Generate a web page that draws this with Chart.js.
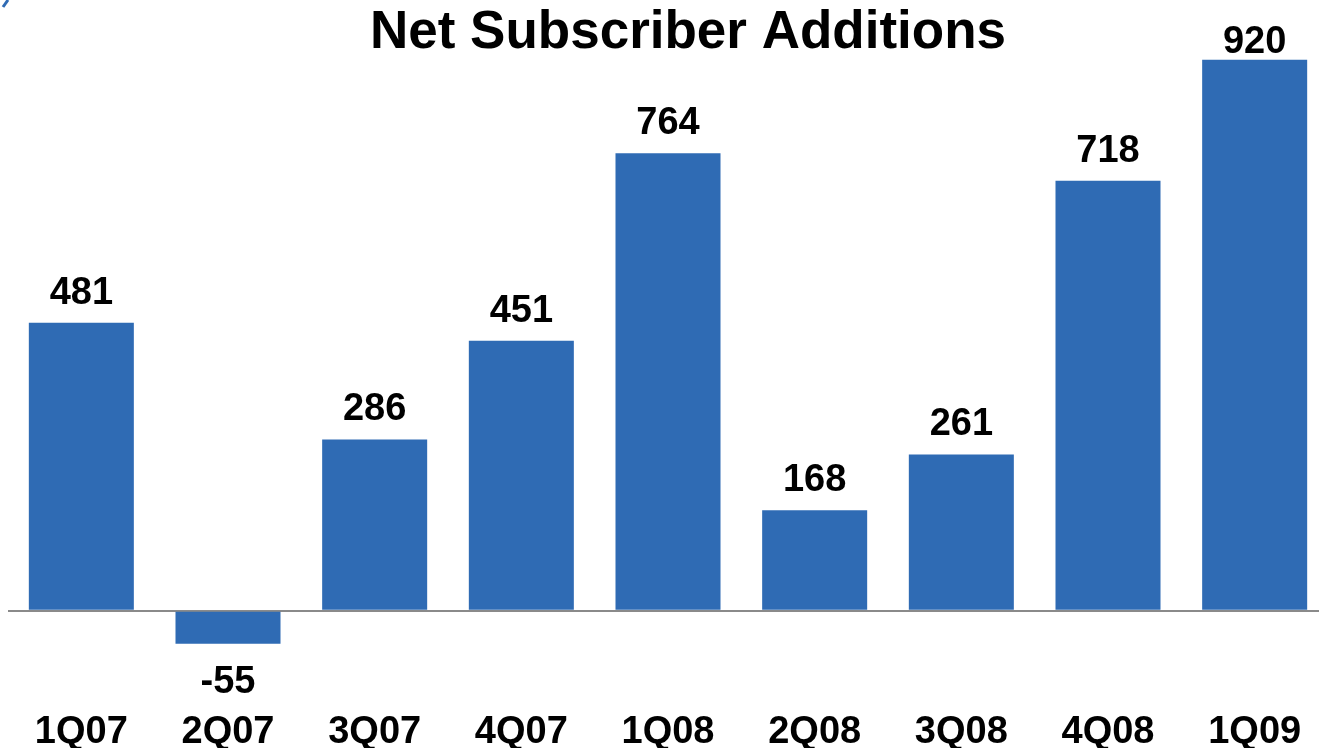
<!DOCTYPE html>
<html>
<head>
<meta charset="utf-8">
<script src="https://cdn.jsdelivr.net/npm/chart.js@4.4.1/dist/chart.umd.min.js"></script>
<style>
  html, body { margin: 0; padding: 0; background: #fff; overflow: hidden; width: 1319px; height: 748px; }
  #wrap { position: absolute; left: 0; top: 0; width: 1328px; height: 757px; }
</style>
</head>
<body>
<div id="wrap"><canvas id="c" width="1328" height="757"></canvas></div>
<script>
const categories = ['1Q07', '2Q07', '3Q07', '4Q07', '1Q08', '2Q08', '3Q08', '4Q08', '1Q09'];
const netAdds = [481, -55, 286, 451, 764, 168, 261, 718, 920];
const titleText = 'Net Subscriber Additions';

const FONT = "'Liberation Sans', Arial, Helvetica, sans-serif";

const labelPlugin = {
  id: 'barLabels',
  afterDatasetsDraw(chart) {
    const ctx = chart.ctx;
    const meta = chart.getDatasetMeta(0);
    ctx.save();
    ctx.font = 'bold 38px ' + FONT;
    ctx.fillStyle = '#000';
    ctx.textAlign = 'center';
    ctx.textBaseline = 'alphabetic';
    meta.data.forEach((el, i) => {
      const v = chart.data.datasets[0].data[i];
      if (v >= 0) {
        // keep the label below the title band (clamped like the original)
        const y = Math.max(el.y - 19, chart.chartArea.top - 5);
        ctx.fillText(String(v), el.x, y);
      } else {
        ctx.fillText(String(v), el.x, el.y + 49);
      }
    });
    ctx.restore();
  }
};

const titlePlugin = {
  id: 'offsetTitle',
  afterDraw(chart) {
    const ctx = chart.ctx;
    ctx.save();
    // small cropped decoration at the top-left corner
    ctx.strokeStyle = '#2f6bb4';
    ctx.lineWidth = 3;
    ctx.beginPath();
    ctx.moveTo(8, 0);
    ctx.lineTo(3, 7);
    ctx.stroke();
    ctx.font = 'bold 53px ' + FONT;
    ctx.fillStyle = '#000';
    ctx.textAlign = 'center';
    ctx.textBaseline = 'alphabetic';
    ctx.fillText(titleText, 688, 48);
    ctx.restore();
  }
};

new Chart(document.getElementById('c'), {
  type: 'bar',
  data: {
    labels: categories,
    datasets: [{
      data: netAdds,
      backgroundColor: '#2f6bb4',
      borderWidth: 0,
      categoryPercentage: 1,
      barPercentage: 0.716
    }]
  },
  options: {
    responsive: false,
    animation: false,
    devicePixelRatio: 1,
    layout: { padding: { left: 8, right: 0, top: 58, bottom: 0 } },
    plugins: {
      legend: { display: false },
      tooltip: { enabled: false },
      title: { display: false }
    },
    scales: {
      x: {
        grid: { display: false, drawTicks: false },
        border: { display: false },
        ticks: {
          color: '#000',
          font: { family: FONT, size: 38, weight: 'bold', lineHeight: 1.1 },
          padding: 4,
          maxRotation: 0,
          autoSkip: false
        }
      },
      y: {
        min: -161,
        max: 923,
        border: { display: false },
        ticks: { display: false, stepSize: 100 },
        grid: {
          drawTicks: false,
          color: (c) => (c.tick && c.tick.value === 0) ? '#8a8a8a' : 'rgba(0,0,0,0)',
          lineWidth: (c) => (c.tick && c.tick.value === 0) ? 2 : 0
        }
      }
    }
  },
  plugins: [labelPlugin, titlePlugin]
});
</script>
</body>
</html>
